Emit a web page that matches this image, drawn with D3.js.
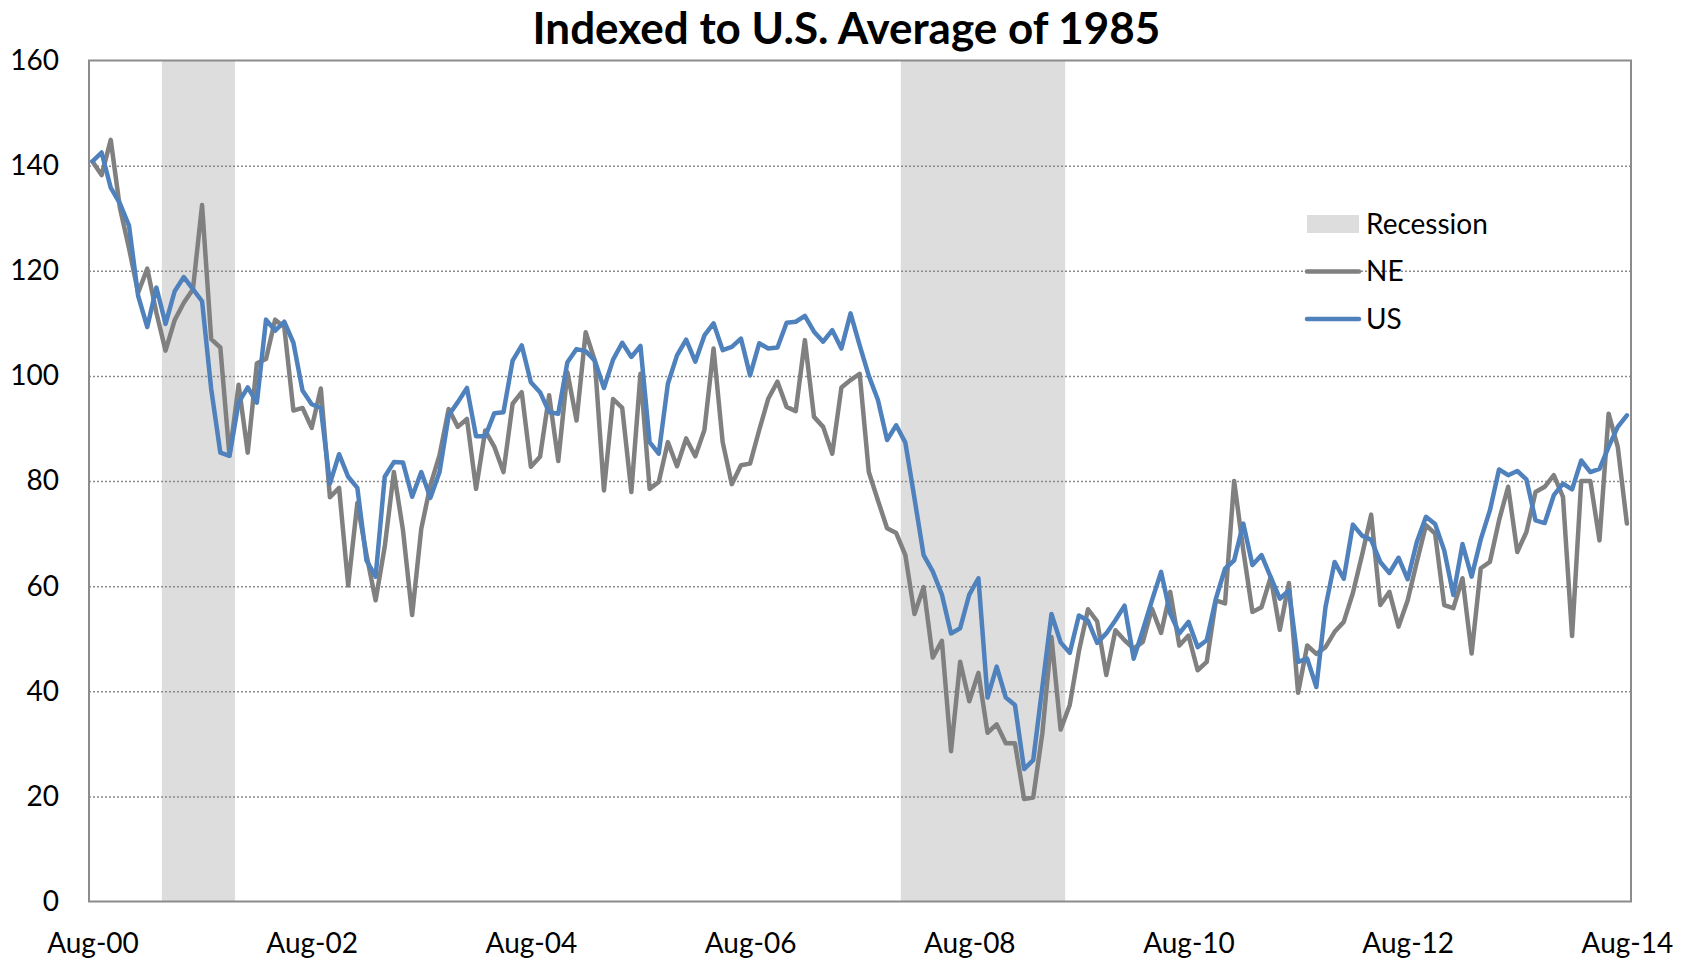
<!DOCTYPE html>
<html>
<head>
<meta charset="utf-8">
<script src="https://cdn.jsdelivr.net/npm/d3@7"></script>
<style>
  body { margin: 0; background: #fff; }
  text { font-family: Lato, "Open Sans", sans-serif; fill: #000; }
</style>
</head>
<body>
<svg id="chart"></svg>
<script>
// monthly values, Aug-00 .. Aug-14
const ne = [
  140.8, 138.2, 144.9, 132.0, 124.3, 115.8, 120.4, 112.0, 104.8, 110.6, 113.9, 116.5,
  132.5, 107.0, 105.4, 84.8, 98.3, 85.4, 102.4, 103.2, 110.7, 109.3, 93.4, 93.9,
  90.1, 97.6, 76.9, 78.7, 60.1, 75.8, 66.0, 57.3, 67.5, 81.7, 70.6, 54.5,
  70.9, 79.2, 84.9, 93.7, 90.3, 91.8, 78.5, 89.6, 86.5, 81.7, 94.7, 96.9,
  82.7, 84.6, 96.3, 83.8, 100.7, 91.5, 108.3, 102.9, 78.2, 95.6, 93.9, 77.9,
  100.4, 78.5, 79.8, 87.4, 82.8, 88.1, 84.7, 89.7, 105.2, 87.4, 79.4, 83.0,
  83.3, 89.7, 95.7, 98.9, 94.1, 93.3, 106.8, 92.2, 90.3, 85.2, 97.8, 99.2,
  100.4, 81.7, 76.3, 71.0, 70.1, 65.9, 54.7, 59.8, 46.4, 49.6, 28.6, 45.6,
  38.1, 43.5, 32.1, 33.7, 30.1, 30.1, 19.5, 19.8, 32.0, 50.3, 32.7, 37.4,
  47.6, 55.6, 53.3, 43.1, 51.6, 49.7, 48.1, 49.4, 55.7, 51.1, 58.9, 48.7,
  50.6, 44.0, 45.6, 57.3, 56.7, 80.0, 66.8, 55.1, 56.0, 61.7, 51.7, 60.6,
  39.7, 48.7, 47.1, 48.4, 51.3, 53.2, 58.7, 65.9, 73.6, 56.4, 58.9, 52.3,
  57.3, 64.6, 71.6, 70.0, 56.4, 55.8, 61.5, 47.2, 63.4, 64.6, 72.5, 78.9,
  66.5, 70.3, 77.9, 78.9, 81.1, 77.0, 50.5, 80.0, 80.0, 68.7, 92.8, 86.5,
  71.9
];
const us = [
  140.8, 142.5, 135.8, 132.8, 128.6, 115.2, 109.3, 116.8, 109.9, 116.1, 118.8, 116.5,
  114.2, 97.5, 85.4, 84.8, 94.9, 97.8, 94.9, 110.7, 108.6, 110.3, 106.3, 97.2,
  94.6, 93.9, 79.5, 85.1, 80.8, 78.7, 64.9, 61.8, 80.8, 83.6, 83.5, 77.0,
  81.7, 76.8, 81.7, 92.5, 95.0, 97.7, 88.5, 88.5, 92.9, 93.1, 102.9, 105.8,
  98.8, 96.9, 93.1, 92.8, 102.6, 105.1, 104.7, 102.9, 97.7, 103.1, 106.3, 103.6,
  105.7, 87.4, 85.2, 98.5, 103.9, 106.9, 102.7, 107.7, 110.0, 104.9, 105.5, 107.1,
  100.1, 106.2, 105.2, 105.4, 110.1, 110.3, 111.4, 108.4, 106.5, 108.7, 105.2, 111.9,
  105.8, 100.0, 95.4, 87.8, 90.6, 87.3, 76.7, 65.9, 62.8, 58.4, 51.0, 52.0,
  58.4, 61.5, 38.8, 44.7, 38.8, 37.4, 25.2, 26.9, 40.8, 54.7, 49.3, 47.3,
  54.4, 53.4, 49.2, 51.0, 53.5, 56.3, 46.2, 51.6, 57.3, 62.7, 54.8, 51.0,
  53.2, 48.4, 49.7, 57.6, 63.3, 64.9, 71.9, 64.0, 65.9, 61.7, 57.6, 59.2,
  45.6, 46.2, 40.8, 56.0, 64.6, 61.4, 71.7, 69.6, 68.8, 64.6, 62.5, 65.4,
  61.3, 68.4, 73.2, 71.8, 66.8, 58.3, 68.0, 61.8, 68.9, 74.4, 82.2, 81.1,
  81.9, 80.3, 72.5, 72.0, 77.3, 79.5, 78.4, 83.9, 81.7, 82.3, 86.5, 90.3,
  92.5
];
const xLabels = ["Aug-00", "Aug-02", "Aug-04", "Aug-06", "Aug-08", "Aug-10", "Aug-12", "Aug-14"];
const yTicks = [0, 20, 40, 60, 80, 100, 120, 140, 160];
// recession spans, in months from Aug-00
const recessions = [[7.6, 15.6], [88.5, 106.5]];
const seriesNames = ["NE", "US"];

const WIDTH = 1693;
const HEIGHT = 962;
const GREY = '#808080';
const BLUE = '#4f81bd';
const BAND = '#dddddd';
const FONT_SIZE = 28;

const plot = {left: 89, right: 1631, top: 60.5, bottom: 901.5};

const svg = d3.select('#chart')
    .attr('width', WIDTH)
    .attr('height', HEIGHT);

const x = d3.scaleLinear()
    .domain([-0.38, ne.length - 1 + 0.45])
    .range([plot.left, plot.right]);

const y = d3.scaleLinear()
    .domain([0, 160])
    .range([plot.bottom, plot.top]);

// recession bands
svg.append('g')
    .selectAll('rect')
    .data(recessions)
    .join('rect')
    .attr('x', d => x(d[0]))
    .attr('width', d => x(d[1]) - x(d[0]))
    .attr('y', y(160))
    .attr('height', y(0) - y(160))
    .attr('fill', BAND);

// gridlines
svg.append('g')
    .attr('transform', `translate(${plot.left},0)`)
    .call(d3.axisLeft(y)
        .tickValues(yTicks.filter(d => d > 0 && d < 160))
        .tickSize(-(plot.right - plot.left))
        .tickFormat(''))
    .call(g => g.select('.domain').remove())
    .call(g => g.selectAll('line')
        .attr('stroke', '#8a8a8a')
        .attr('stroke-width', 1.5)
        .attr('stroke-dasharray', '2,2'));

// frame
svg.append('rect')
    .attr('x', plot.left)
    .attr('y', plot.top)
    .attr('width', plot.right - plot.left)
    .attr('height', plot.bottom - plot.top)
    .attr('fill', 'none')
    .attr('stroke', '#8c8c8c')
    .attr('stroke-width', 2);

// y axis labels
svg.append('g')
    .attr('transform', `translate(${plot.left},0)`)
    .call(d3.axisLeft(y).tickValues(yTicks).tickSize(0).tickPadding(30))
    .call(g => g.select('.domain').remove())
    .call(g => g.selectAll('text')
        .attr('font-size', FONT_SIZE)
        .style('font-family', 'Lato, sans-serif')
        .attr('fill', '#000'));

// x axis labels
svg.append('g')
    .attr('transform', `translate(0,${plot.bottom})`)
    .call(d3.axisBottom(x)
        .tickValues(d3.range(0, ne.length, 24))
        .tickFormat((d, i) => xLabels[i])
        .tickSize(0)
        .tickPadding(32))
    .call(g => g.select('.domain').remove())
    .call(g => g.selectAll('text')
        .attr('font-size', FONT_SIZE)
        .style('font-family', 'Lato, sans-serif')
        .attr('fill', '#000'));

// lines
const line = d3.line()
    .x((d, i) => x(i))
    .y(d => y(d));

[[ne, GREY], [us, BLUE]].forEach(([values, color]) => {
    svg.append('path')
        .datum(values)
        .attr('d', line)
        .attr('fill', 'none')
        .attr('stroke', color)
        .attr('stroke-width', 4.5)
        .attr('stroke-linejoin', 'round')
        .attr('stroke-linecap', 'round');
});

// title
svg.append('text')
    .attr('x', WIDTH / 2)
    .attr('y', 44)
    .attr('text-anchor', 'middle')
    .attr('font-size', 44)
    .attr('font-weight', 'bold')
    .text('Indexed to U.S. Average of 1985');

// legend
const legend = svg.append('g').attr('transform', 'translate(1307,224)');
legend.append('rect')
    .attr('x', 0).attr('y', -9)
    .attr('width', 52).attr('height', 18)
    .attr('fill', BAND);
legend.append('text')
    .attr('x', 59).attr('y', 0).attr('dy', '0.35em')
    .attr('font-size', FONT_SIZE)
    .text('Recession');

seriesNames.forEach((name, i) => {
    const gy = 47.5 * (i + 1);
    legend.append('line')
        .attr('x1', 0).attr('x2', 52)
        .attr('y1', gy).attr('y2', gy)
        .attr('stroke', i === 0 ? GREY : BLUE)
        .attr('stroke-width', 4.5)
        .attr('stroke-linecap', 'round');
    legend.append('text')
        .attr('x', 59).attr('y', gy).attr('dy', '0.35em')
        .attr('font-size', FONT_SIZE)
        .text(name);
});
</script>
</body>
</html>
